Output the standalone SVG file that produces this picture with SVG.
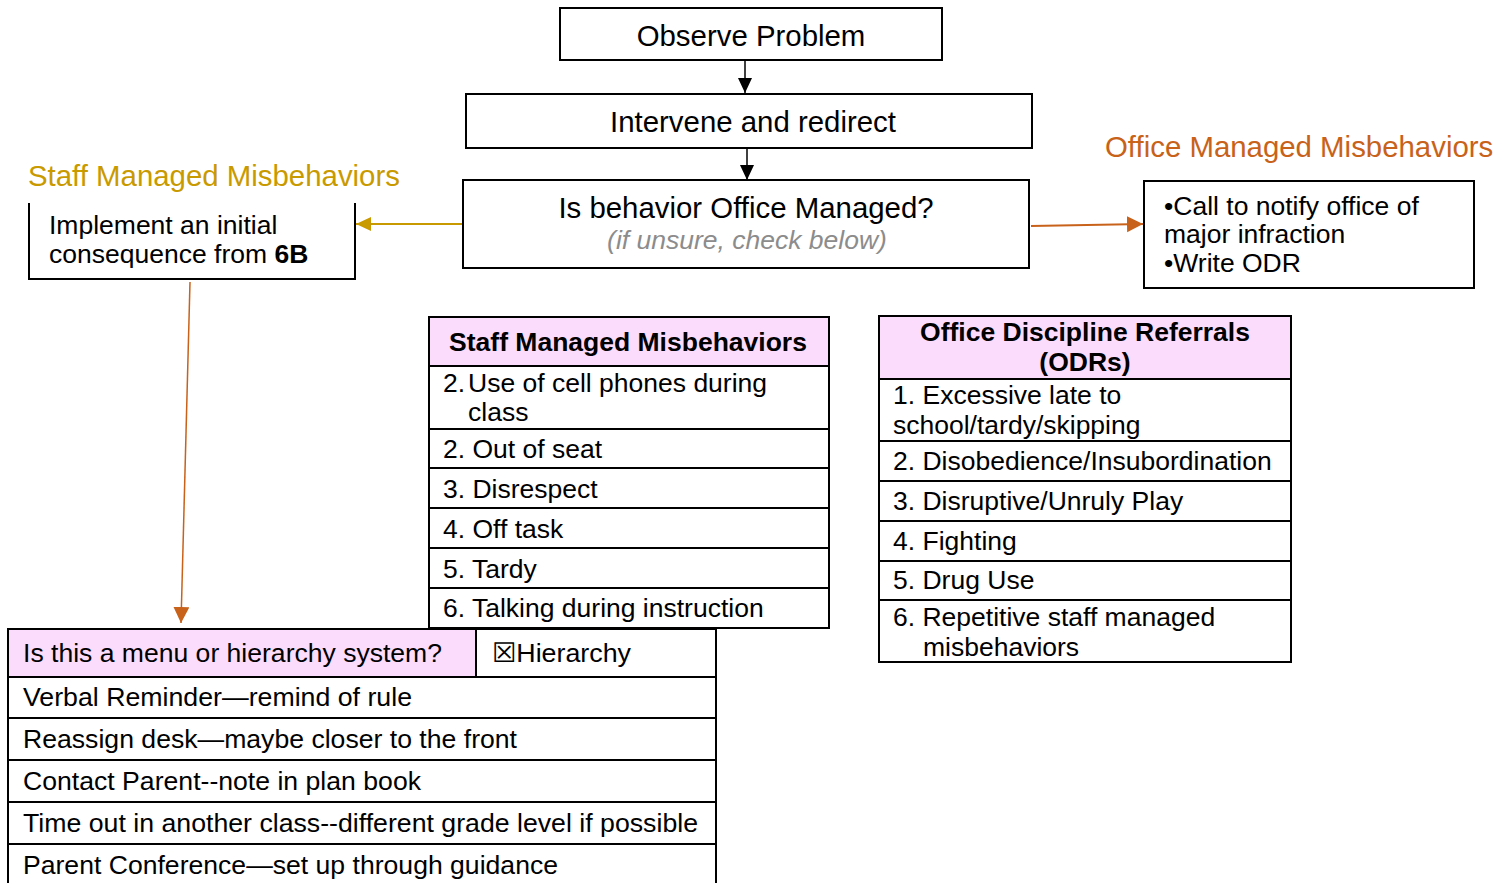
<svg xmlns="http://www.w3.org/2000/svg" width="1512" height="883" viewBox="0 0 1512 883">
  <style>
    text { font-family: "Liberation Sans", Arial, sans-serif; fill: #000; }
    .t29 { font-size: 29.4px; }
    .t26 { font-size: 26.5px; }
    .b { font-weight: bold; }
    .mid { text-anchor: middle; }
    .note { font-style: italic; fill: #8c8c8c; }
    .gold { fill: #C99A00; }
    .rust { fill: #C8621A; }
    .box { fill: #fff; stroke: #000; stroke-width: 2; }
    .head { fill: #FCDCFC; stroke: #000; stroke-width: 2; }
    .rule { stroke: #000; stroke-width: 2; fill: none; }
  </style>
  <defs>
    <marker id="arrBlack" markerUnits="userSpaceOnUse" markerWidth="16" markerHeight="16" refX="15" refY="7" orient="auto">
      <path d="M0,0 L15,7 L0,14 Z" fill="#000"/>
    </marker>
    <marker id="arrGold" markerUnits="userSpaceOnUse" markerWidth="16" markerHeight="16" refX="15" refY="7" orient="auto">
      <path d="M0,0 L15,7 L0,14 Z" fill="#C99A00"/>
    </marker>
    <marker id="arrRust" markerUnits="userSpaceOnUse" markerWidth="18" markerHeight="18" refX="16" refY="8" orient="auto">
      <path d="M0,0 L16,8 L0,16 Z" fill="#C8621A"/>
    </marker>
  </defs>

  <rect width="1512" height="883" fill="#fff"/>

  <!-- connectors -->
  <g id="connectors">
    <line x1="745" y1="60" x2="745" y2="93" stroke="#000" stroke-width="1.5" marker-end="url(#arrBlack)"/>
    <line x1="747" y1="148" x2="747" y2="180" stroke="#000" stroke-width="1.5" marker-end="url(#arrBlack)"/>
    <line x1="463" y1="224" x2="356" y2="224" stroke="#C99A00" stroke-width="2" marker-end="url(#arrGold)"/>
    <line x1="1031" y1="226" x2="1143" y2="224" stroke="#C8621A" stroke-width="2" marker-end="url(#arrRust)"/>
    <line x1="190" y1="282" x2="181" y2="623" stroke="#C8621A" stroke-width="1.5" marker-end="url(#arrRust)"/>
  </g>

  <!-- flow steps -->
  <g id="observe">
    <rect class="box" x="560" y="8" width="382" height="52"/>
    <text class="t29 mid" x="751" y="46">Observe Problem</text>
  </g>
  <g id="intervene">
    <rect class="box" x="466" y="94" width="566" height="54"/>
    <text class="t29 mid" x="753" y="132">Intervene and redirect</text>
  </g>
  <g id="decision">
    <rect class="box" x="463" y="180" width="566" height="88"/>
    <text class="t29 mid" x="746" y="218">Is behavior Office Managed?</text>
    <text class="t26 mid note" x="747" y="249">(if unsure, check below)</text>
  </g>

  <!-- staff managed branch -->
  <g id="staff-label">
    <text class="t29 gold" x="28" y="186">Staff Managed Misbehaviors</text>
  </g>
  <g id="staff-action">
    <rect x="29" y="203" width="326" height="76" fill="#fff"/>
    <path class="rule" d="M29,203 V279 H355 V203"/>
    <text class="t26" x="49" y="234">Implement an initial</text>
    <text class="t26" x="49" y="263">consequence from <tspan class="b">6B</tspan></text>
  </g>

  <!-- office managed branch -->
  <g id="office-label">
    <text class="t29 rust" x="1105" y="157">Office Managed Misbehaviors</text>
  </g>
  <g id="office-action">
    <rect class="box" x="1144" y="181" width="330" height="107"/>
    <text class="t26" x="1164" y="215">•Call to notify office of</text>
    <text class="t26" x="1164" y="243">major infraction</text>
    <text class="t26" x="1164" y="272">•Write ODR</text>
  </g>

  <!-- staff managed list -->
  <g id="staff-table">
    <rect class="box" x="429" y="317" width="400" height="311"/>
    <rect class="head" x="429" y="317" width="400" height="49"/>
    <path class="rule" d="M429,429 H829 M429,468 H829 M429,508 H829 M429,548 H829 M429,588 H829"/>
    <text class="t26 b mid" x="628" y="351">Staff Managed Misbehaviors</text>
    <text class="t26" x="443" y="392">2.</text>
    <text class="t26" x="468" y="392">Use of cell phones during</text>
    <text class="t26" x="468" y="421">class</text>
    <text class="t26" x="443" y="458">2. Out of seat</text>
    <text class="t26" x="443" y="498">3. Disrespect</text>
    <text class="t26" x="443" y="538">4. Off task</text>
    <text class="t26" x="443" y="578">5. Tardy</text>
    <text class="t26" x="443" y="617">6. Talking during instruction</text>
  </g>

  <!-- office discipline referral list -->
  <g id="odr-table">
    <rect class="box" x="879" y="316" width="412" height="346"/>
    <rect class="head" x="879" y="316" width="412" height="63"/>
    <path class="rule" d="M879,441 H1291 M879,481 H1291 M879,521 H1291 M879,561 H1291 M879,600 H1291"/>
    <text class="t26 b mid" x="1085" y="341">Office Discipline Referrals</text>
    <text class="t26 b mid" x="1085" y="371">(ODRs)</text>
    <text class="t26" x="893" y="404">1. Excessive late to</text>
    <text class="t26" x="893" y="434">school/tardy/skipping</text>
    <text class="t26" x="893" y="470">2. Disobedience/Insubordination</text>
    <text class="t26" x="893" y="510">3. Disruptive/Unruly Play</text>
    <text class="t26" x="893" y="550">4. Fighting</text>
    <text class="t26" x="893" y="589">5. Drug Use</text>
    <text class="t26" x="893" y="626">6. Repetitive staff managed</text>
    <text class="t26" x="923" y="656">misbehaviors</text>
  </g>

  <!-- consequence hierarchy -->
  <g id="consequence-table">
    <rect class="box" x="8" y="629" width="708" height="270"/>
    <rect class="head" x="8" y="629" width="468" height="48"/>
    <path class="rule" d="M476,629 V677 M8,677 H716 M8,718 H716 M8,760 H716 M8,802 H716 M8,844 H716"/>
    <text class="t26" x="23" y="662" textLength="419" lengthAdjust="spacingAndGlyphs">Is this a menu or hierarchy system?</text>
    <text class="t26" x="492" y="662" textLength="139" lengthAdjust="spacingAndGlyphs">☒Hierarchy</text>
    <text class="t26" x="23" y="706" textLength="389" lengthAdjust="spacingAndGlyphs">Verbal Reminder—remind of rule</text>
    <text class="t26" x="23" y="748" textLength="494" lengthAdjust="spacingAndGlyphs">Reassign desk—maybe closer to the front</text>
    <text class="t26" x="23" y="790" textLength="398" lengthAdjust="spacingAndGlyphs">Contact Parent--note in plan book</text>
    <text class="t26" x="23" y="832" textLength="675" lengthAdjust="spacingAndGlyphs">Time out in another class--different grade level if possible</text>
    <text class="t26" x="23" y="874" textLength="535" lengthAdjust="spacingAndGlyphs">Parent Conference—set up through guidance</text>
  </g>
</svg>
